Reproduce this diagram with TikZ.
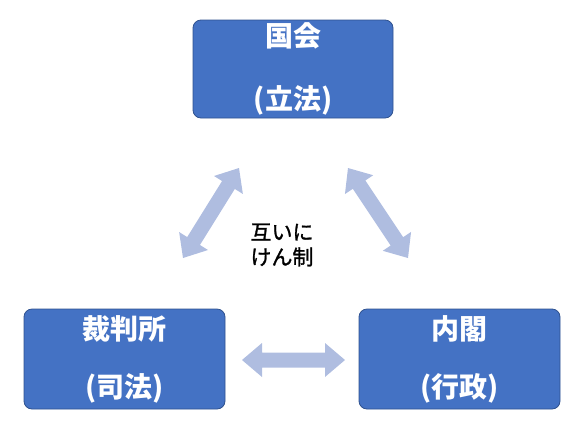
\documentclass[tikz,border=0pt]{standalone}
\usepackage{fontspec}
\newfontfamily\jp{Noto Sans CJK JP}
\newfontfamily\jpm[FakeBold=1.2]{Noto Sans CJK JP}
\usetikzlibrary{calc}
\definecolor{boxfill}{HTML}{4472C4}
\definecolor{boxline}{HTML}{2F528F}
\definecolor{arrowfill}{HTML}{AFBDE0}
\tikzset{
  branch/.style={draw=boxline, line width=0.8pt, fill=boxfill, rounded corners=8pt,
    text=white, align=center, font=\jp\bfseries\fontsize{28}{#1}\selectfont,
    minimum width=200pt, minimum height=98pt, inner sep=0pt},
  fat/.style={fill=arrowfill, draw=none}
}
\newcommand\hl{20pt}
\newcommand\hw{17pt}
\newcommand\sw{7.5pt}
\newcommand\fatarrow[2]{%
  \coordinate (p1) at ($(#1)!\hl!(#2)$);
  \coordinate (p2) at ($(#2)!\hl!(#1)$);
  \fill[fat] (#1) -- ($(p1)!\hw!90:(#2)$) -- ($(p1)!\sw!90:(#2)$)
    -- ($(p2)!\sw!-90:(#1)$) -- ($(p2)!\hw!-90:(#1)$) -- (#2)
    -- ($(p2)!\hw!90:(#1)$) -- ($(p2)!\sw!90:(#1)$)
    -- ($(p1)!\sw!-90:(#2)$) -- ($(p1)!\hw!-90:(#2)$) -- cycle;}
\begin{document}
\begin{tikzpicture}[x=1pt,y=-1pt]
\useasboundingbox (0,0) rectangle (586,437);
\node[branch=63] (kokkai) at (293,69) {国会\\(立法)};
\node[branch=58, minimum width=201pt, minimum height=100pt] (saiban) at (124.5,359) {裁判所\\(司法)};
\node[branch=58, minimum width=201pt, minimum height=100pt] (naikaku) at (459.5,359) {内閣\\(行政)};
\node[font=\jpm\fontsize{21}{25}\selectfont, align=center, inner sep=0pt] (check) at (282,245) {互いに\\けん制};
\coordinate (l1) at (183,258);
\coordinate (l2) at (239,168);
\coordinate (r1) at (348,168);
\coordinate (r2) at (408,258);
\coordinate (h1) at (242,360);
\coordinate (h2) at (345,360);
\fatarrow{l1}{l2}
\fatarrow{r1}{r2}
\fatarrow{h1}{h2}
\end{tikzpicture}
\end{document}
